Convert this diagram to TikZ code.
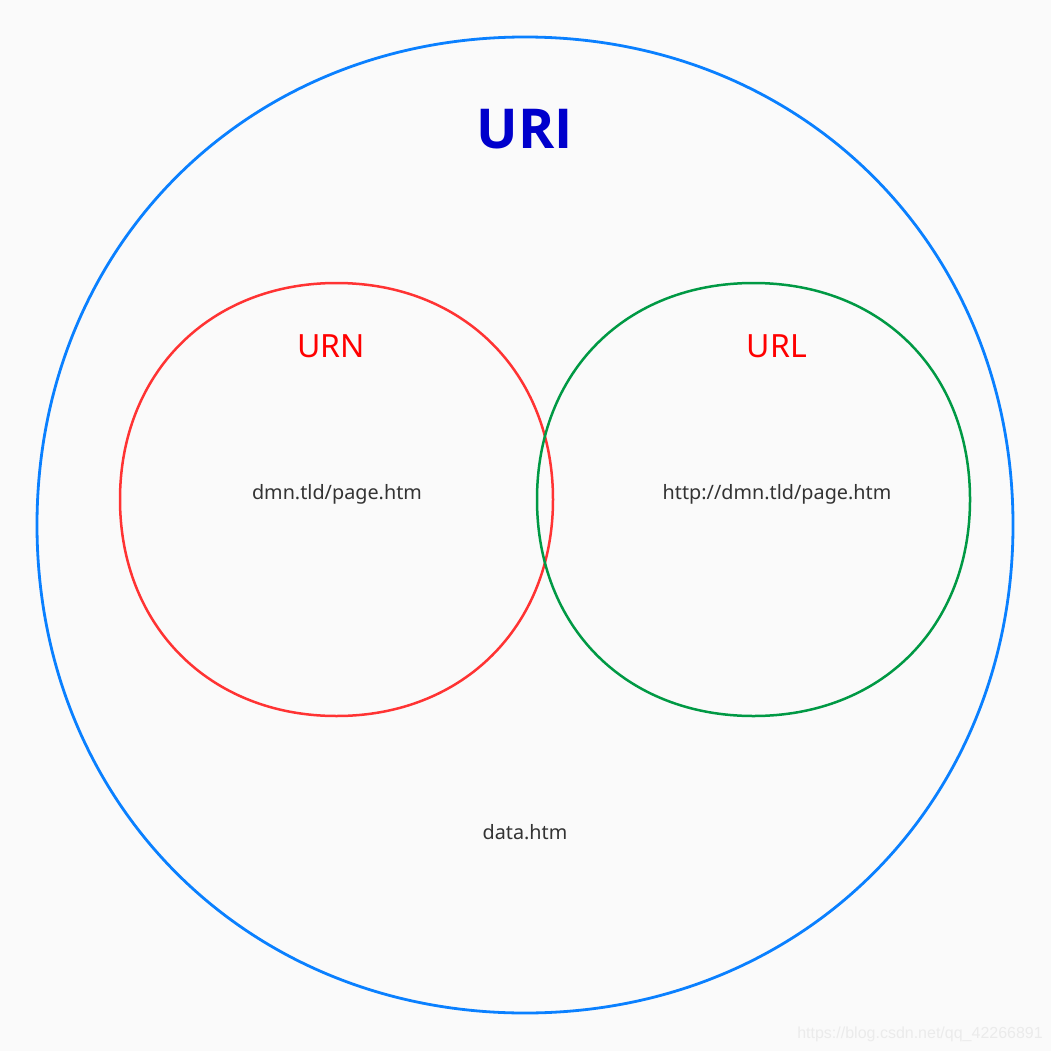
\documentclass[tikz,border=0pt]{standalone}
\usepackage{fontspec}
\setmainfont{Noto Sans}
\newfontfamily\titlefont{Open Sans}
\newfontfamily\wmfont{Liberation Sans}
\definecolor{bgc}{HTML}{FAFAFA}
\definecolor{uriblue}{HTML}{0A80FF}
\definecolor{urired}{HTML}{FF3333}
\definecolor{urlgreen}{HTML}{009944}
\definecolor{titleblue}{HTML}{0000CC}
\definecolor{txtgray}{HTML}{333333}
\definecolor{wmgray}{HTML}{EBEBEB}
\newcommand\mysquircle[5]{% style, cx, cy, r, k
  \draw[#1] ({#2+#4},{#3})
    .. controls ({#2+#4},{#3+#5*#4}) and ({#2+#5*#4},{#3+#4}) .. ({#2},{#3+#4})
    .. controls ({#2-#5*#4},{#3+#4}) and ({#2-#4},{#3+#5*#4}) .. ({#2-#4},{#3})
    .. controls ({#2-#4},{#3-#5*#4}) and ({#2-#5*#4},{#3-#4}) .. ({#2},{#3-#4})
    .. controls ({#2+#5*#4},{#3-#4}) and ({#2+#4},{#3-#5*#4}) .. cycle;}
\tikzset{
  setbig/.style={draw=uriblue, line width=2.8pt},
  setred/.style={draw=urired, line width=2.5pt},
  setgreen/.style={draw=urlgreen, line width=2.5pt},
  title/.style={font=\titlefont\fontsize{55}{58}\selectfont\bfseries, text=titleblue, inner sep=0pt},
  setlabel/.style={font=\fontsize{32}{34}\selectfont, text=red, inner sep=0pt},
  example/.style={font=\fontsize{19.8}{22}\selectfont, text=txtgray, inner sep=0pt},
  watermark/.style={font=\wmfont\fontsize{16}{18}\selectfont, text=wmgray, inner sep=0pt}
}
\begin{document}
\begin{tikzpicture}[x=1pt,y=-1pt]
  \fill[bgc] (0,0) rectangle (1051,1051);
  \useasboundingbox (0,0) rectangle (1051,1051);
  \mysquircle{setbig}{525}{525}{488}{0.57}
  \mysquircle{setred}{336.5}{499.5}{216.5}{0.585}
  \mysquircle{setgreen}{753.5}{499.5}{216.5}{0.59}
  \node[title] (uri) at (525,129) {URI};
  \node[setlabel] (urn) at (331,346) {URN};
  \node[setlabel] (url) at (777,346) {URL};
  \node[example] (urnex) at (337,494) {dmn.tld/page.htm};
  \node[example] (urlex) at (777,494) {http://dmn.tld/page.htm};
  \node[example] (other) at (525,832) {data.htm};
  \node[watermark, anchor=base east] (wm) at (1043,1038) {https://blog.csdn.net/qq\_42266891};
\end{tikzpicture}
\end{document}
